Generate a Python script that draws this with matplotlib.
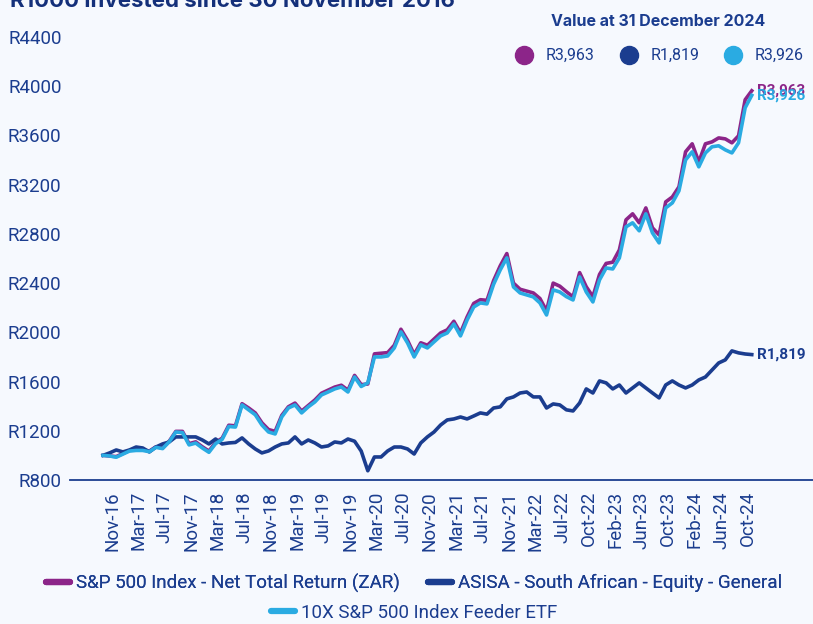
import numpy as np
import matplotlib.pyplot as plt
import matplotlib.transforms as mtransforms
from matplotlib.lines import Line2D

plt.rcParams['font.family'] = ['Roboto', 'DejaVu Sans']

# R1000 invested, monthly values (one extra point between Jul-22 and Oct-22)
sp500 = [1000, 995, 990, 1015, 1040, 1045, 1045, 1035, 1070, 1060,
         1115, 1195, 1195, 1095, 1110, 1070, 1035, 1105, 1140, 1245,
         1240, 1420, 1385, 1345, 1265, 1210, 1195, 1325, 1395, 1425,
         1360, 1405, 1450, 1505, 1530, 1555, 1570, 1530, 1650, 1575,
         1580, 1825, 1830, 1835, 1895, 2025, 1935, 1820, 1915, 1895,
         1945, 1995, 2020, 2090, 1995, 2125, 2235, 2265, 2260, 2420,
         2540, 2640, 2400, 2350, 2335, 2320, 2275, 2175, 2400, 2375,
         2330, 2288, 2485, 2370, 2290, 2470, 2560, 2570, 2670, 2914,
         2963, 2890, 3011, 2849, 2792, 3060, 3100, 3182, 3467, 3532,
         3385, 3532, 3548, 3580, 3572, 3540, 3597, 3890, 3963]

asisa = [1000, 1020, 1044, 1028, 1044, 1068, 1060, 1028, 1068, 1093,
         1109, 1150, 1150, 1150, 1150, 1125, 1093, 1133, 1093, 1101,
         1105, 1142, 1093, 1052, 1020, 1036, 1068, 1093, 1101, 1150,
         1093, 1125, 1101, 1068, 1077, 1109, 1101, 1133, 1115, 1035,
         875, 987, 987, 1036, 1068, 1068, 1052, 1011, 1101, 1150,
         1190, 1247, 1288, 1296, 1312, 1296, 1320, 1345, 1335, 1385,
         1394, 1459, 1475, 1507, 1515, 1475, 1475, 1385, 1418, 1410,
         1370, 1361, 1426, 1540, 1507, 1605, 1589, 1540, 1572, 1507,
         1548, 1589, 1548, 1507, 1467, 1572, 1605, 1572, 1548, 1572,
         1613, 1637, 1694, 1751, 1776, 1849, 1833, 1824, 1819]

etf = [1000, 995, 985, 1010, 1035, 1040, 1040, 1030, 1065, 1055,
       1110, 1190, 1185, 1085, 1100, 1060, 1025, 1095, 1130, 1235,
       1230, 1410, 1370, 1330, 1247, 1190, 1174, 1312, 1385, 1410,
       1345, 1394, 1434, 1491, 1515, 1540, 1556, 1515, 1637, 1560,
       1589, 1800, 1800, 1808, 1873, 2003, 1914, 1800, 1898, 1873,
       1922, 1971, 1995, 2068, 1971, 2100, 2206, 2239, 2231, 2390,
       2507, 2605, 2369, 2320, 2304, 2288, 2239, 2141, 2345, 2328,
       2290, 2263, 2450, 2328, 2247, 2426, 2523, 2515, 2605, 2857,
       2890, 2825, 2963, 2808, 2727, 3011, 3052, 3150, 3401, 3467,
       3345, 3458, 3508, 3516, 3483, 3458, 3540, 3825, 3926]

tick_labels = ['Nov-16', 'Mar-17', 'Jul-17', 'Nov-17', 'Mar-18', 'Jul-18',
               'Nov-18', 'Mar-19', 'Jul-19', 'Nov-19', 'Mar-20', 'Jul-20',
               'Nov-20', 'Mar-21', 'Jul-21', 'Nov-21', 'Mar-22', 'Jul-22',
               'Oct-22', 'Feb-23', 'Jun-23', 'Oct-23', 'Feb-24', 'Jun-24',
               'Oct-24']

series_names = ['S&P 500 Index - Net Total Return (ZAR)',
                'ASISA - South African - Equity - General',
                '10X S&P 500 Index Feeder ETF']

navy = '#1B3D8F'
purple = '#8C2589'
cyan = '#2AABE2'
bg = '#F6F9FE'

fig = plt.figure(figsize=(8.13, 6.24), dpi=100, facecolor=bg)
ax = fig.add_axes([0.086, 0.2308, 0.914, 0.7099], facecolor=bg)

x = np.arange(len(sp500))
ax.plot(x, sp500, color=purple, lw=2.6, zorder=2)
ax.plot(x, asisa, color=navy, lw=2.6, zorder=3)
ax.plot(x, etf, color=cyan, lw=2.6, zorder=4)

ax.set_xlim(-5, 107.25)
ax.set_ylim(800, 4400)
yt = np.arange(800, 4401, 400)
ax.set_yticks(yt)
ax.set_yticklabels([f'R{v}' for v in yt])
ax.set_xticks(x[::4])
ax.set_xticklabels(tick_labels, rotation=90)

for s in ['left', 'top', 'right']:
    ax.spines[s].set_visible(False)
ax.spines['bottom'].set_color(navy)
ax.spines['bottom'].set_linewidth(1.3)
ax.tick_params(axis='both', length=0, labelcolor=navy)
ax.tick_params(axis='y', pad=6, labelsize=13.5)
ax.tick_params(axis='x', pad=8, labelsize=13.5)

shift = mtransforms.ScaledTranslation(9 / 100, 0, fig.dpi_scale_trans)
for lbl in ax.get_xticklabels():
    lbl.set_transform(lbl.get_transform() + shift)

# end labels
for vals, col in [(sp500, purple), (asisa, navy), (etf, cyan)]:
    ax.annotate(f'R{vals[-1]:,}', xy=(x[-1], vals[-1]), xytext=(4, 0),
                textcoords='offset points', va='center', ha='left',
                fontsize=11, fontweight='bold', color=col)

# title (cut off at top of the image)
fig.text(0.012, 1 - 7 / 624, 'R1000 invested since 30 November 2016',
         fontsize=16, fontweight='bold', color='#14307A', va='baseline',
         family=['Inter', 'DejaVu Sans'])

# value box top right
fig.text(658 / 813, 1 - 21 / 624, 'Value at 31 December 2024', ha='center',
         va='center', fontsize=11.5, fontweight='bold', color=navy,
         family=['Inter', 'DejaVu Sans'])
for xc, vals, col in [(524, sp500, purple), (629, asisa, navy), (733, etf, cyan)]:
    fig.add_artist(Line2D([xc / 813], [1 - 55 / 624], marker='o',
                          markersize=13, color=col, lw=0,
                          transform=fig.transFigure))
    fig.text((xc + 22) / 813, 1 - 55 / 624, f'R{vals[-1]:,}', va='center',
             ha='left', fontsize=11.5, color=navy)

# bottom legend
handles = [Line2D([0], [0], color=c, lw=4.5, solid_capstyle='round')
           for c in [purple, navy, cyan]]
leg1 = fig.legend(handles[:2], series_names[:2], loc='center', ncol=2,
                  bbox_to_anchor=(0.509, 1 - 583 / 624), frameon=False,
                  fontsize=13.5, labelcolor=navy, handlelength=1.3,
                  handletextpad=0.3, columnspacing=1.5, borderpad=0)
fig.legend(handles[2:], series_names[2:], loc='center',
           bbox_to_anchor=(0.509, 1 - 613 / 624), frameon=False,
           fontsize=13.5, labelcolor=navy, handlelength=1.3,
           handletextpad=0.3, borderpad=0)
fig.add_artist(leg1)

fig.savefig('out.png', dpi=100, facecolor=bg)
